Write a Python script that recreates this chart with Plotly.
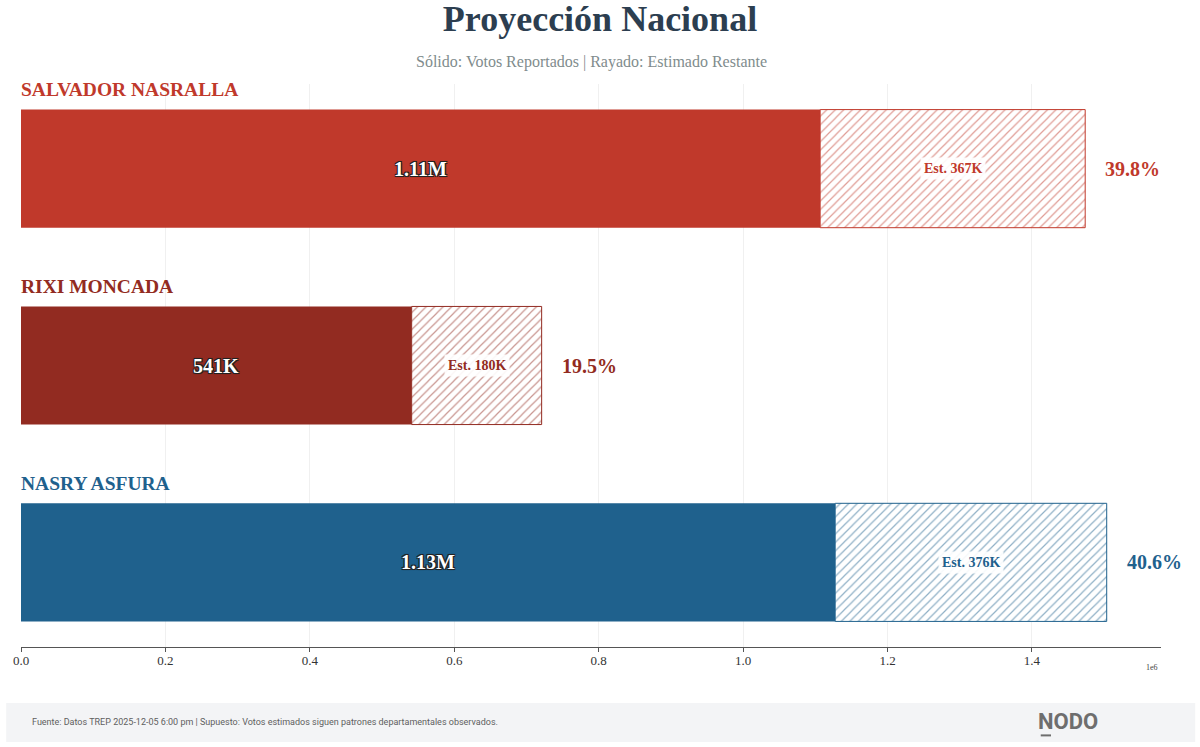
import plotly.graph_objects as go

# ---------------- data ----------------
candidates = ["SALVADOR NASRALLA", "RIXI MONCADA", "NASRY ASFURA"]
reported = [1106700, 541000, 1127500]
estimated = [367000, 180000, 376000]
share_pct = [39.8, 19.5, 40.6]
colors = ["#C0392B", "#922B21", "#1F618D"]
tick_vals = [0, 200000, 400000, 600000, 800000, 1000000, 1200000, 1400000]
tick_text = ["0.0", "0.2", "0.4", "0.6", "0.8", "1.0", "1.2", "1.4"]

title = "Proyección Nacional"
subtitle = "Sólido: Votos Reportados | Rayado: Estimado Restante"
footer = ("Fuente: Datos TREP 2025-12-05 6:00 pm | Supuesto: Votos estimados "
          "siguen patrones departamentales observados.")
brand = "NODO"

SERIF = "Liberation Serif, Times New Roman, serif"


def fmt(v):
    if v >= 1e6:
        return f"{v / 1e6:.2f}M"
    return f"{round(v / 1e3):.0f}K"


ypos = list(range(len(candidates)))
totals = [r + e for r, e in zip(reported, estimated)]
xmax = max(totals) * 1.05

fig = go.Figure()
fig.add_trace(go.Bar(
    y=ypos, x=reported, orientation="h", width=0.6,
    marker=dict(color=colors, line=dict(width=0)),
    hoverinfo="skip", showlegend=False,
))
fig.add_trace(go.Bar(
    y=ypos, x=estimated, base=reported, orientation="h", width=0.6,
    marker=dict(color="white", line=dict(color=colors, width=1),
                pattern=dict(shape="/", fgcolor=colors, bgcolor="white",
                             size=6, solidity=0.2)),
    hoverinfo="skip", showlegend=False,
))

ann = []
for i, name in enumerate(candidates):
    ann.append(dict(x=0, y=i - 0.4, xref="x", yref="y", text=f"<b>{name}</b>",
                    showarrow=False, xanchor="left", yanchor="middle", xshift=-2,
                    font=dict(family=SERIF, size=19.5, color=colors[i])))
    ann.append(dict(x=reported[i] / 2, y=i, xref="x", yref="y",
                    text=f"<b>{fmt(reported[i])}</b>", showarrow=False,
                    xanchor="center", yanchor="middle",
                    font=dict(family=SERIF, size=20, color="white",
                              shadow="-1px -1px 0 #222, 1px -1px 0 #222, -1px 1px 0 #222, 1px 1px 0 #222, 0 0 2px #000")))
    ann.append(dict(x=reported[i] + estimated[i] / 2, y=i, xref="x", yref="y",
                    text=f"<b>Est. {fmt(estimated[i])}</b>", showarrow=False,
                    xanchor="center", yanchor="middle",
                    bgcolor="rgba(255,255,255,0.9)", borderpad=3,
                    font=dict(family=SERIF, size=14, color=colors[i])))
    ann.append(dict(x=totals[i] + xmax * 0.016, y=i, xref="x", yref="y",
                    text=f"<b>{share_pct[i]:.1f}%</b>", showarrow=False,
                    xanchor="left", yanchor="middle",
                    font=dict(family=SERIF, size=20, color=colors[i])))

ann.append(dict(x=0.5, y=1.039, xref="paper", yref="paper", text=subtitle,
                showarrow=False, xanchor="center", yanchor="middle",
                font=dict(family=SERIF, size=16, color="#7F8C8D")))
ann.append(dict(x=0.9995, y=-0.036, xref="paper", yref="paper", text="1e6",
                showarrow=False, xanchor="right", yanchor="middle",
                font=dict(family=SERIF, size=8, color="#444")))
ann.append(dict(x=0.0079, y=-0.1332, xref="paper", yref="paper", text=footer,
                showarrow=False, xanchor="left", yanchor="middle",
                font=dict(family="Roboto, sans-serif", size=9, color="#606060")))
ann.append(dict(x=0.918, y=-0.1315, xref="paper", yref="paper", text=f"<b>{brand}</b>",
                showarrow=False, xanchor="center", yanchor="middle",
                font=dict(family="Roboto, sans-serif", size=22, color="#6E6E6E")))

shapes = [
    dict(type="rect", xref="paper", yref="paper", x0=-0.013, x1=1.03,
         y0=-0.1687, y1=-0.0995, fillcolor="#F3F4F6", line=dict(width=0),
         layer="below"),
    dict(type="line", xref="paper", yref="paper", x0=0.8945, x1=0.9035,
         y0=-0.157, y1=-0.157, line=dict(color="#6E6E6E", width=2)),
]

fig.update_layout(
    width=1200, height=747,
    margin=dict(l=21, r=39, t=84, b=100),
    paper_bgcolor="white", plot_bgcolor="white",
    barmode="overlay", bargap=0.4,
    title=dict(text=f"<b>{title}</b>", x=0.5, xanchor="center",
               y=0.975, yanchor="middle",
               font=dict(family=SERIF, size=36, color="#2C3E50")),
    xaxis=dict(range=[0, xmax], tickvals=tick_vals, ticktext=tick_text,
               showgrid=True, gridcolor="#F0F0F0", gridwidth=1,
               showline=True, linecolor="#555", linewidth=1,
               ticks="outside", ticklen=4, tickcolor="#555",
               ticklabelstandoff=-3,
               tickfont=dict(family=SERIF, size=13, color="#333"),
               zeroline=False, fixedrange=True),
    yaxis=dict(range=[2.43, -0.43], showticklabels=False, showgrid=False,
               zeroline=False, showline=False, fixedrange=True),
    annotations=ann, shapes=shapes,
)

fig.write_html("out.html")
